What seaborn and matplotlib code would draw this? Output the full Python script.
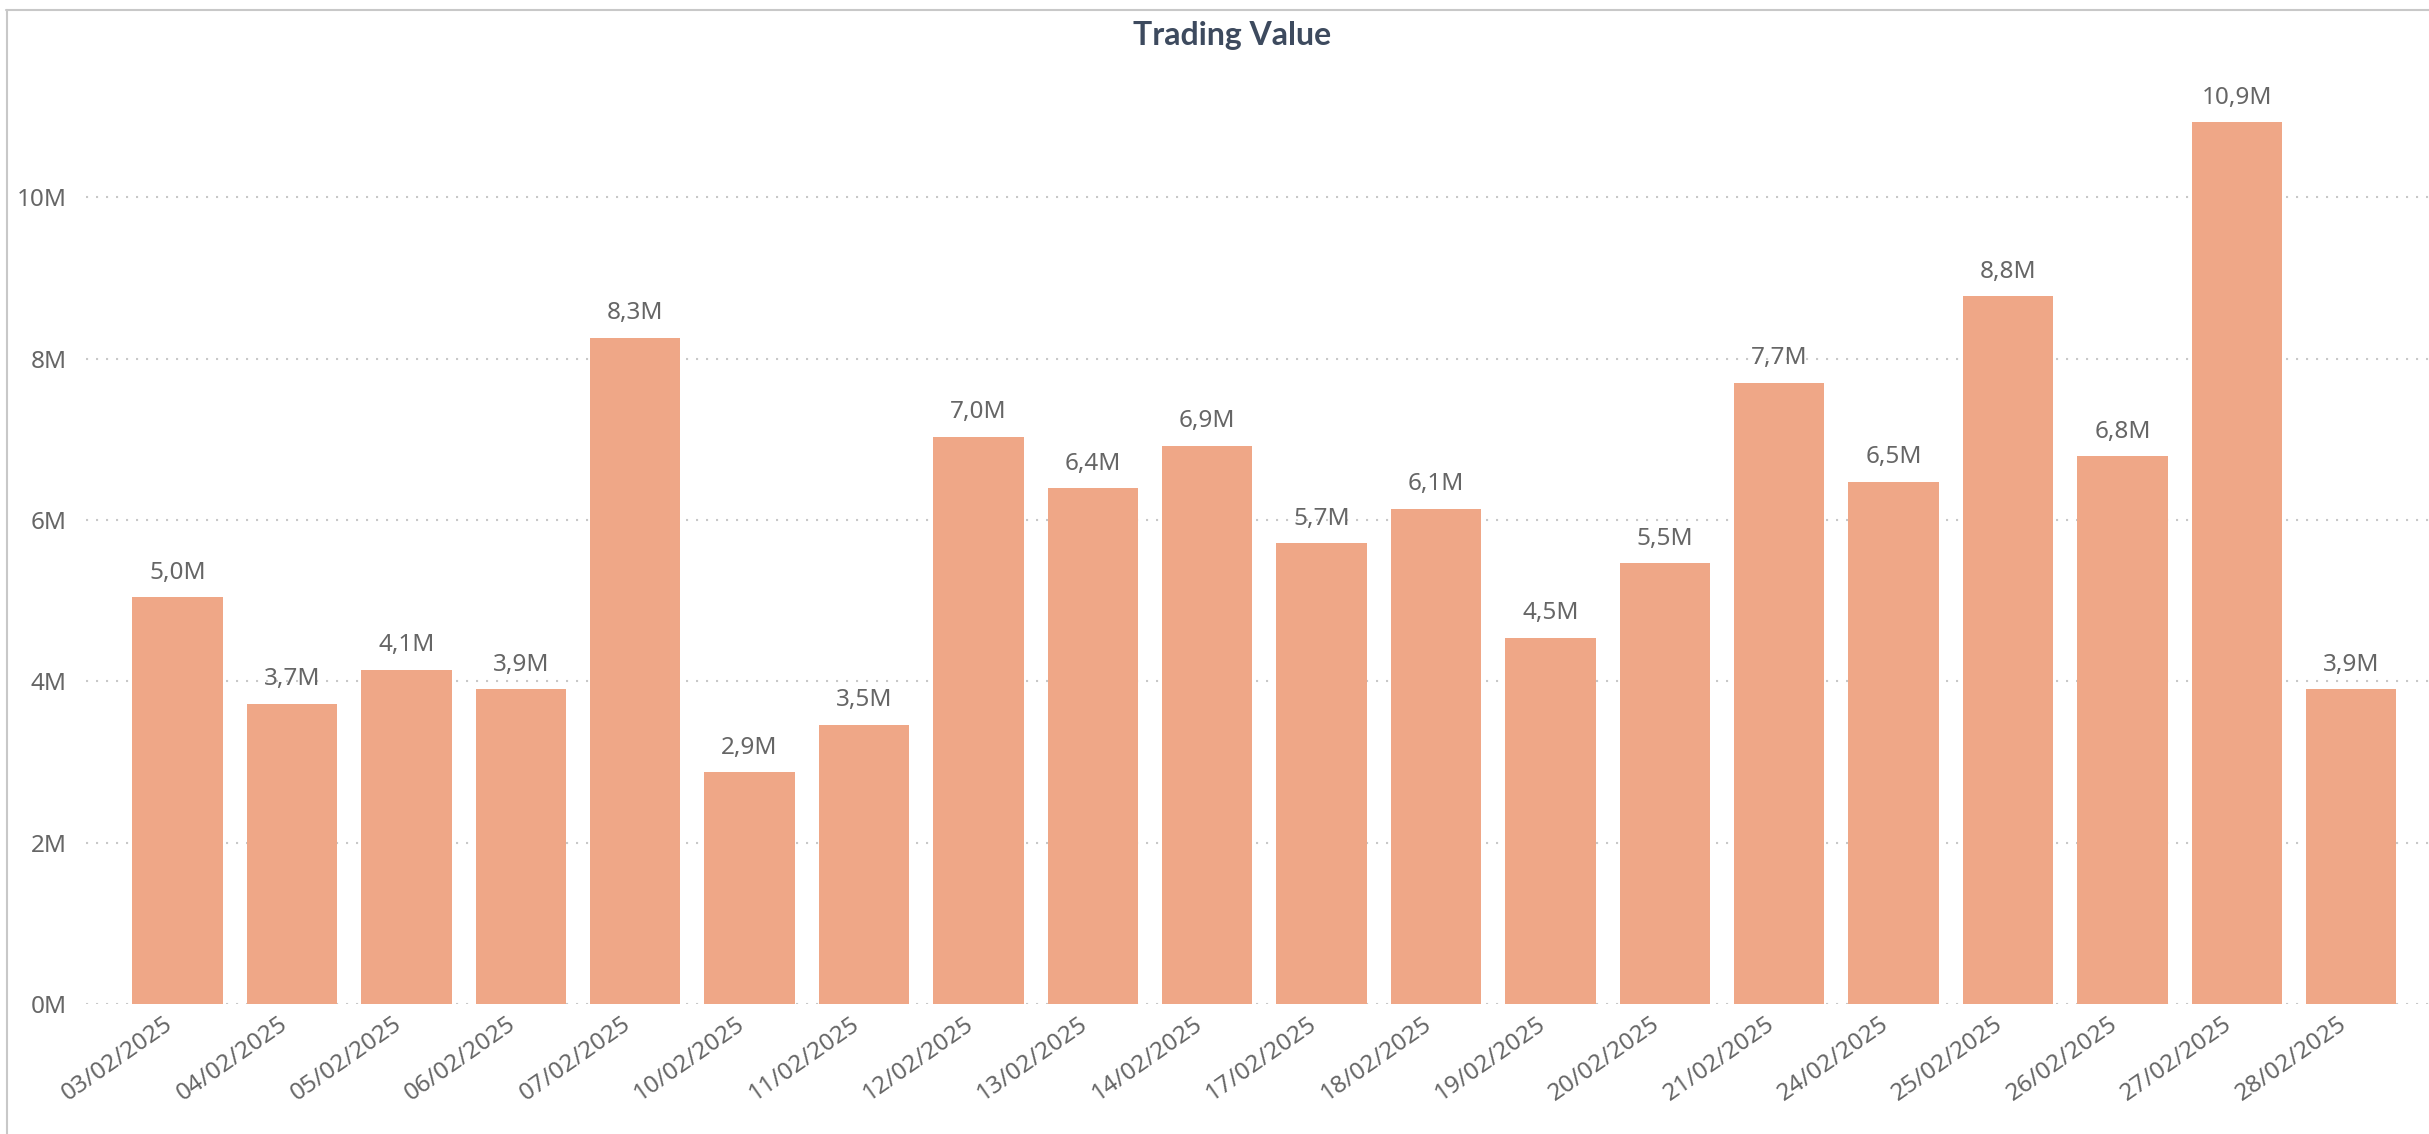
import matplotlib
matplotlib.use("Agg")
import matplotlib.pyplot as plt
from matplotlib.lines import Line2D
from matplotlib.ticker import FuncFormatter
from matplotlib.transforms import ScaledTranslation
import seaborn as sns
import pandas as pd

sns.set_style("white")
plt.rcParams["font.family"] = ["Noto Sans", "DejaVu Sans"]

# trading value per day, in millions
dates = ["03/02/2025", "04/02/2025", "05/02/2025", "06/02/2025", "07/02/2025",
         "10/02/2025", "11/02/2025", "12/02/2025", "13/02/2025", "14/02/2025",
         "17/02/2025", "18/02/2025", "19/02/2025", "20/02/2025", "21/02/2025",
         "24/02/2025", "25/02/2025", "26/02/2025", "27/02/2025", "28/02/2025"]
values = [5.04, 3.72, 4.14, 3.90, 8.26, 2.87, 3.46, 7.03, 6.39, 6.92,
          5.71, 6.14, 4.54, 5.46, 7.70, 6.47, 8.77, 6.79, 10.93, 3.90]
y_ticks = [0, 2, 4, 6, 8, 10]

BAR = "#EFA787"
TEXT = "#666666"
GRID = "#c8c8c8"

W, H = 2429, 1134
fig = plt.figure(figsize=(W / 100, H / 100), dpi=100)
fig.patch.set_facecolor("white")

# plot area placed to match the reference (pixel coords from top-left)
left_px, bottom_px, top_px = 86, 1004, 60
ax = fig.add_axes([left_px / W, 1 - bottom_px / H, 1 - left_px / W, (bottom_px - top_px) / H])

df = pd.DataFrame({"date": dates, "value": values})
sns.barplot(data=df, x="date", y="value", color=BAR, saturation=1, width=0.79,
            edgecolor="none", ax=ax, zorder=3)

ax.set_xlim(-0.80, 19.68)
ax.set_ylim(0, 11.7)
ax.set_yticks(y_ticks)
ax.yaxis.set_major_formatter(FuncFormatter(lambda v, _: f"{v:.0f}M"))
ax.set_xlabel("")
ax.set_ylabel("")

for y in y_ticks:
    ax.axhline(y, color=GRID, lw=1.5, linestyle=(0, (1, 3.8)), zorder=1)

for spine in ax.spines.values():
    spine.set_visible(False)

ax.tick_params(axis="y", length=0, pad=14, labelsize=17.5, labelcolor=TEXT)
ax.tick_params(axis="x", length=0, pad=13, labelsize=17.5, labelcolor=TEXT)
# rotated date labels, nudged a little left of the bar centre
shift = ScaledTranslation(-7 / 100, 0, fig.dpi_scale_trans)
for lbl in ax.get_xticklabels():
    lbl.set_rotation(35)
    lbl.set_ha("right")
    lbl.set_va("center")
    lbl.set_rotation_mode("anchor")
    lbl.set_transform(lbl.get_transform() + shift)

# data labels
for i, v in enumerate(values):
    ax.annotate(f"{v:.1f}M".replace(".", ","), (i, v), xytext=(0, 9),
                textcoords="offset points", ha="center", va="bottom",
                fontsize=17.5, color=TEXT)

fig.text(1232 / W, 1 - 45 / H, "Trading Value", ha="center", va="baseline",
         fontsize=23, fontweight="bold", color="#3d4a5e", family="Lato")

# visual frame: top and left border only
fig.add_artist(Line2D([6 / W, 1], [1 - 10 / H, 1 - 10 / H], color="#c8c8c8", lw=1.5))
fig.add_artist(Line2D([7 / W, 7 / W], [0, 1 - 10 / H], color="#c8c8c8", lw=1.5))

fig.savefig("out.png", dpi=100, facecolor="white")
